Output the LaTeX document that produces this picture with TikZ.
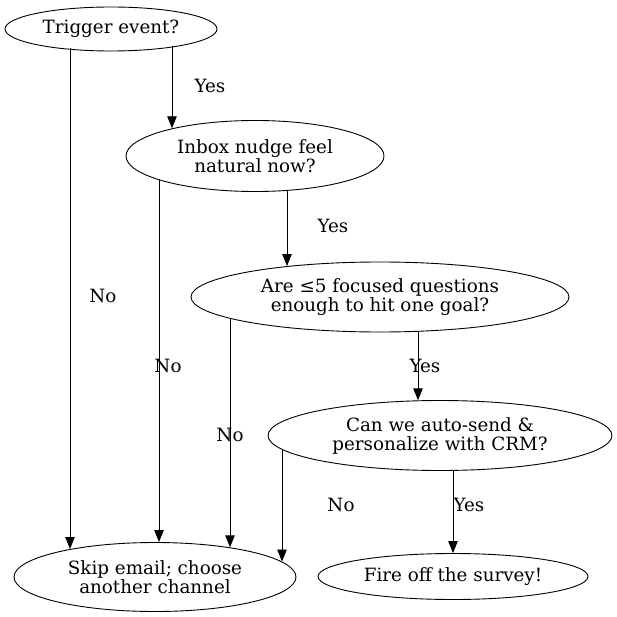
\documentclass[tikz,border=0pt]{standalone}
\usepackage{fontspec}
\setmainfont{DejaVu Serif}
\usetikzlibrary{shapes.geometric,arrows.meta,calc}
\tikzset{
	q/.style={draw,ellipse,line width=0.9pt,inner sep=0pt,align=center,font=\fontsize{18.3}{19}\selectfont},
	arr/.style={line width=0.9pt,-{Triangle[length=12pt,width=9.5pt]}},
	lbl/.style={font=\fontsize{18.3}{19}\selectfont,inner sep=0pt}
}
\begin{document}
\begin{tikzpicture}[x=1pt,y=-1pt]
				\useasboundingbox (0,0) rectangle (617,617);
				\node[q,minimum width=212pt,minimum height=44pt] (trig) at (111,29) {Trigger event?};
				\node[q,minimum width=258pt,minimum height=71pt] (inbox) at (255,156) {Inbox nudge feel\\natural now?};
				\node[q,minimum width=378pt,minimum height=70pt] (goal) at (380,297) {Are ≤5 focused questions\\enough to hit one goal?};
				\node[q,minimum width=344pt,minimum height=70pt] (crm) at (440,435.5) {Can we auto-send \&\\personalize with CRM?};
				\node[q,minimum width=282pt,minimum height=69pt] (skip) at (155,577) {Skip email; choose\\another channel};
				\node[q,minimum width=270pt,minimum height=46pt] (fire) at (453,576.5) {Fire off the survey!};
				\draw[arr] ($(trig)+(-41,19.3)$) -- node[lbl,pos=0.495,xshift=33pt] {No} ($(skip)+(-85,-28)$);
				\draw[arr] ($(trig)+(61,17)$) -- node[lbl,pos=0.49,xshift=38pt] {Yes} ($(inbox)+(-83,-27.7)$);
				\draw[arr] ($(inbox)+(-96,23.2)$) -- node[lbl,pos=0.515,xshift=9pt] {No} ($(skip)+(4,-35)$);
				\draw[arr] ($(inbox)+(32,33.9)$) -- node[lbl,pos=0.47,xshift=46pt] {Yes} ($(goal)+(-93,-31)$);
				\draw[arr] ($(goal)+(-150,20.8)$) -- node[lbl,pos=0.51] {No} ($(skip)+(75,-29.7)$);
				\draw[arr] ($(goal)+(38,33.8)$) -- node[lbl,pos=0.5,xshift=7pt] {Yes} ($(crm)+(-22,-35.2)$);
				\draw[arr] ($(crm)+(-158,13.3)$) -- node[lbl,pos=0.5,xshift=59pt] {No} ($(skip)+(127,-15.5)$);
				\draw[arr] ($(crm)+(13,34.5)$) -- node[lbl,pos=0.42,xshift=16pt] {Yes} (fire.north);
			\end{tikzpicture}
\end{document}
